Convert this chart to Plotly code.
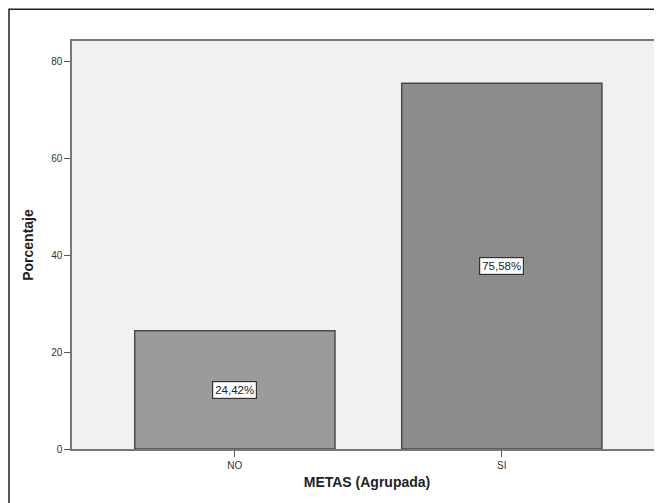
import plotly.graph_objects as go

categories = ["NO", "SI"]
values = [24.42, 75.58]
labels = ["24,42%", "75,58%"]
bar_colors = ["#9b9b9b", "#8c8c8c"]
y_ticks = [0, 20, 40, 60, 80]

fig = go.Figure()
fig.add_trace(go.Bar(
    x=categories, y=values,
    marker=dict(color=bar_colors, line=dict(color="#4a4a4a", width=1.5)),
    width=0.75, hoverinfo="skip", showlegend=False,
))

for c, v, t in zip(categories, values, labels):
    fig.add_annotation(
        x=c, y=v / 2, text=t, showarrow=False,
        font=dict(family="Liberation Sans, Arial", size=11.5, color="#222"),
        bgcolor="white", bordercolor="#333", borderwidth=1.2, borderpad=2,
    )

# outer frame of the chart window
fig.add_shape(type="rect", xref="paper", yref="paper",
              x0=-0.1068, x1=1.1, y0=-0.3, y1=1.078,
              line=dict(color="#222", width=1.5), fillcolor="rgba(0,0,0,0)",
              layer="above")

fig.update_layout(
    width=654, height=495,
    margin=dict(l=64, r=0, t=33, b=54),
    paper_bgcolor="white", plot_bgcolor="#f1f1f1",
    font=dict(family="Liberation Sans, Arial", color="#333"),
    bargap=0.25,
    xaxis=dict(
        range=[-0.61, 1.6], showgrid=False, zeroline=False,
        showline=True, linecolor="#777", linewidth=1.5, mirror=True,
        ticks="outside", ticklen=6, tickcolor="#555",
        tickfont=dict(size=10, color="#333"),
        title=dict(text="<b>METAS (Agrupada)</b>", font=dict(size=14, color="#222"), standoff=7),
    ),
    yaxis=dict(
        range=[0, 84.3], tickvals=y_ticks, showgrid=False, zeroline=False,
        showline=True, linecolor="#777", linewidth=1.5,
        ticks="outside", ticklen=6, tickcolor="#555",
        tickfont=dict(size=10, color="#333"),
        title=dict(text="<b>Porcentaje</b>", font=dict(size=14, color="#222"), standoff=14),
    ),
)

fig.write_html("out.html")
